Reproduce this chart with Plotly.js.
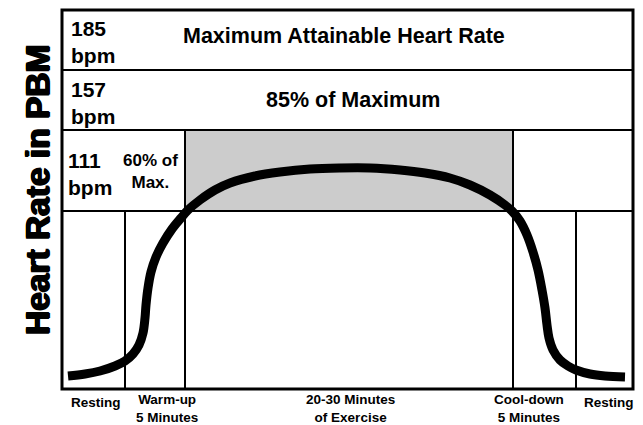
<!DOCTYPE html>
<html>
<head>
<meta charset="utf-8">
<script src="https://cdn.plot.ly/plotly-3.0.1.min.js"></script>
<style>html,body{margin:0;padding:0;background:#fff;}#chart{width:643px;height:425px;}</style>
</head>
<body>
<div id="chart"></div>
<script>
// ---- data (diagram units: x = time position, y = heart-rate level) ----
var curveX = [6,23,38,53,63,71,77,81,83,84,86,89,94,101,110,119,126,138,153,168,193,218,248,278,308,338,363,388,408,428,443,450,458,465,471,476,480,483,485,487,491,498,506,514,528,543,563];
var curveY = [13,15,18,23,28,35,44,56,71,84,101,117,132,146,160,171,179,189,199,206,213,217,220,221,221,219,216,211,204,194,184,178,168,154,137,119,99,81,64,51,39,29,23,19,15,13,12];

var zoneLevels = [178, 259, 319];          // 60%, 85%, maximum boundaries
var bpmValues = ["111", "157", "185"];
var zoneNames = ["60% of", "85% of Maximum", "Maximum Attainable Heart Rate"];
var phaseBounds = [63, 123, 451, 514];     // resting | warm-up | exercise | cool-down | resting
var phaseLine1 = ["Resting", "Warm-up", "20-30 Minutes", "Cool-down", "Resting"];
var phaseLine2 = ["", "5 Minutes", "of Exercise", "5 Minutes", ""];
var phaseCenters = [34, 105, 288, 467, 547];
var xMax = 571, yMax = 379;

var FAM = "Liberation Sans, Arial, Helvetica, sans-serif";
var boldFont = function(sz, shadow){
  var f = {family: FAM, size: sz, color: "#000", weight: 700};
  if (shadow) f.shadow = shadow;
  return f;
};

var shapes = [];
// shaded target zone
shapes.push({type:"rect", xref:"x", yref:"y", x0:phaseBounds[1], x1:phaseBounds[2], y0:zoneLevels[0], y1:zoneLevels[1],
  fillcolor:"#cccccc", line:{width:0}, layer:"below"});
// horizontal zone lines
zoneLevels.forEach(function(l){
  shapes.push({type:"line", xref:"x", yref:"y", x0:0, x1:xMax, y0:l, y1:l, line:{color:"#000", width:2}});
});
// vertical phase lines
shapes.push({type:"line", xref:"x", yref:"y", x0:phaseBounds[0], x1:phaseBounds[0], y0:0, y1:zoneLevels[0], line:{color:"#000", width:2}});
shapes.push({type:"line", xref:"x", yref:"y", x0:phaseBounds[1], x1:phaseBounds[1], y0:0, y1:zoneLevels[1], line:{color:"#000", width:2}});
shapes.push({type:"line", xref:"x", yref:"y", x0:phaseBounds[2], x1:phaseBounds[2], y0:0, y1:zoneLevels[1], line:{color:"#000", width:2}});
shapes.push({type:"line", xref:"x", yref:"y", x0:phaseBounds[3], x1:phaseBounds[3], y0:0, y1:zoneLevels[0], line:{color:"#000", width:2}});
// outer frame
shapes.push({type:"rect", xref:"paper", yref:"paper", x0:0, x1:1, y0:0, y1:1, line:{color:"#000", width:3}, fillcolor:"rgba(0,0,0,0)"});

var ann = [];
function A(text, x, y, sz, xanchor, yref, align){
  ann.push({text:"<b>"+text+"</b>", x:x, y:y, xref:"x", yref:yref||"y", showarrow:false, borderpad:0,
    xanchor:xanchor||"center", yanchor:"middle", align:align||"center", font:boldFont(sz)});
}
// bpm labels
A(bpmValues[2]+"<br>bpm", 8, 347, 21, "left", "y", "left");
A(bpmValues[1]+"<br>bpm", 8, 286, 21, "left", "y", "left");
A(bpmValues[0]+"<br>bpm", 5, 215, 21, "left", "y", "left");
// zone names
A(zoneNames[2], 282, 353, 21.5);
A(zoneNames[1], 291, 289, 21.5);
A(zoneNames[0]+"<br>Max.", 88, 218, 17);
// phase labels (below the plot, in paper units)
for (var i=0;i<phaseLine1.length;i++){
  if (phaseLine2[i]) A(phaseLine1[i]+"<br>"+phaseLine2[i], phaseCenters[i], -19/yMax, 13.5, "center", "paper");
  else A(phaseLine1[i], phaseCenters[i], -13/yMax, 13.5, "center", "paper");
}
// axis title
ann.push({text:"<b>Heart Rate in PBM</b>", xref:"paper", yref:"paper", x:-25/xMax, y:0.525, textangle:-90,
  showarrow:false, borderpad:0, xanchor:"center", yanchor:"middle",
  font:boldFont(33.5, "1px 0 0 #000, -1px 0 0 #000, 0 1px 0 #000")});

var trace = {x:curveX, y:curveY, type:"scatter", mode:"lines",
  line:{color:"#000", width:9, shape:"spline", smoothing:1}, hoverinfo:"skip"};

var layout = {
  width:643, height:425,
  margin:{l:62, r:10, t:10, b:36, pad:0},
  paper_bgcolor:"#fff", plot_bgcolor:"#fff",
  showlegend:false,
  xaxis:{range:[0,xMax], showgrid:false, zeroline:false, showticklabels:false, ticks:"", showline:false, fixedrange:true},
  yaxis:{range:[0,yMax], showgrid:false, zeroline:false, showticklabels:false, ticks:"", showline:false, fixedrange:true},
  shapes:shapes,
  annotations:ann
};
Plotly.newPlot("chart", [trace], layout, {staticPlot:true, displayModeBar:false});
</script>
</body>
</html>
